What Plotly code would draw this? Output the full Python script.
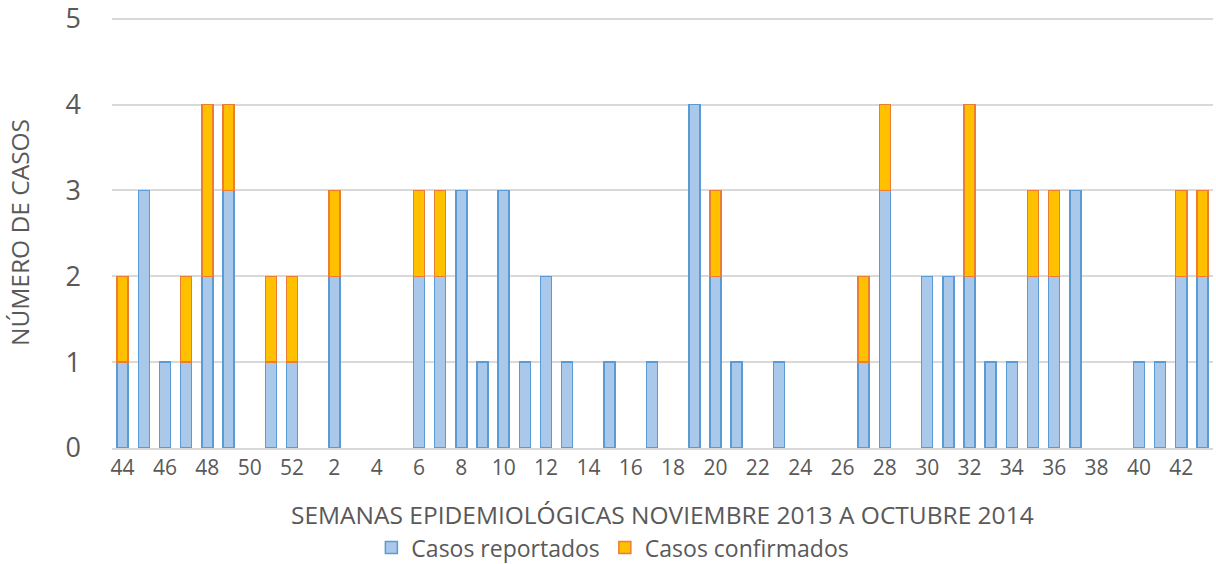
import plotly.graph_objects as go

semanas = ["44", "45", "46", "47", "48", "49", "50", "51", "52",
           "1", "2", "3", "4", "5", "6", "7", "8", "9", "10",
           "11", "12", "13", "14", "15", "16", "17", "18", "19", "20",
           "21", "22", "23", "24", "25", "26", "27", "28", "29", "30",
           "31", "32", "33", "34", "35", "36", "37", "38", "39", "40",
           "41", "42", "43"]
reportados = [1, 3, 1, 1, 2, 3, 0, 1, 1,
              0, 2, 0, 0, 0, 2, 2, 3, 1, 3,
              1, 2, 1, 0, 1, 0, 1, 0, 4, 2,
              1, 0, 1, 0, 0, 0, 1, 3, 0, 2,
              2, 2, 1, 1, 2, 2, 3, 0, 0, 1,
              1, 2, 2]
confirmados = [1, 0, 0, 1, 2, 1, 0, 1, 1,
               0, 1, 0, 0, 0, 1, 1, 0, 0, 0,
               0, 0, 0, 0, 0, 0, 0, 0, 0, 1,
               0, 0, 0, 0, 0, 0, 1, 1, 0, 0,
               0, 2, 0, 0, 1, 1, 0, 0, 0, 0,
               0, 1, 1]
titulo_x = "SEMANAS EPIDEMIOLÓGICAS NOVIEMBRE 2013 A OCTUBRE 2014"
titulo_y = "NÚMERO DE CASOS"

idx = list(range(len(semanas)))
tick_idx = idx[::2]
tick_txt = semanas[::2]

# zero values are not drawn (no empty outline)
rep_y = [v if v else None for v in reportados]
conf_y = [v if v else None for v in confirmados]

fig = go.Figure()
fig.add_trace(go.Bar(
    x=idx, y=rep_y, name="Casos reportados",
    marker=dict(color="#A9C8EA", line=dict(color="#5B9BD5", width=1.5)),
))
fig.add_trace(go.Bar(
    x=idx, y=conf_y, name="Casos confirmados",
    marker=dict(color="#FFC000", line=dict(color="#ED7D31", width=1.5)),
))

fig.update_layout(
    barmode="stack",
    bargap=0.48,
    width=1216, height=564,
    margin=dict(l=112, r=3, t=17, b=116),
    plot_bgcolor="white", paper_bgcolor="white",
    font=dict(family="Open Sans, Calibri, sans-serif", color="#595959"),
    showlegend=True,
    legend=dict(orientation="h", xref="container", yref="container",
                x=0.504, xanchor="center", y=0.029, yanchor="middle",
                font=dict(size=23, color="#595959"), traceorder="normal",
                itemwidth=30, bgcolor="rgba(0,0,0,0)"),
    xaxis=dict(
        range=[-0.5, len(semanas) - 0.5],
        tickmode="array", tickvals=tick_idx, ticktext=tick_txt,
        tickfont=dict(size=21, color="#595959"),
        showgrid=False, zeroline=False,
        showline=True, linecolor="#D9D9D9", linewidth=1.5,
        ticks="", automargin=False,
    ),
    yaxis=dict(
        range=[0, 5.02], tickvals=[0, 1, 2, 3, 4, 5],
        tickfont=dict(size=27, color="#595959"),
        showgrid=True, gridcolor="#D9D9D9", gridwidth=1.5,
        zeroline=False, showline=False, ticks="",
        ticklabelstandoff=30, ticklabeloverflow="allow", automargin=False,
        title=dict(text=titulo_y, font=dict(size=24.5, color="#595959"), standoff=28),
    ),
    annotations=[dict(
        text=titulo_x, xref="paper", yref="paper", x=0.5, y=-0.155,
        xanchor="center", yanchor="middle", showarrow=False,
        font=dict(size=24.5, color="#595959"),
    )],
)

fig.write_html("out.html", config={"displayModeBar": False},
               post_script="document.body.style.margin='0';")
